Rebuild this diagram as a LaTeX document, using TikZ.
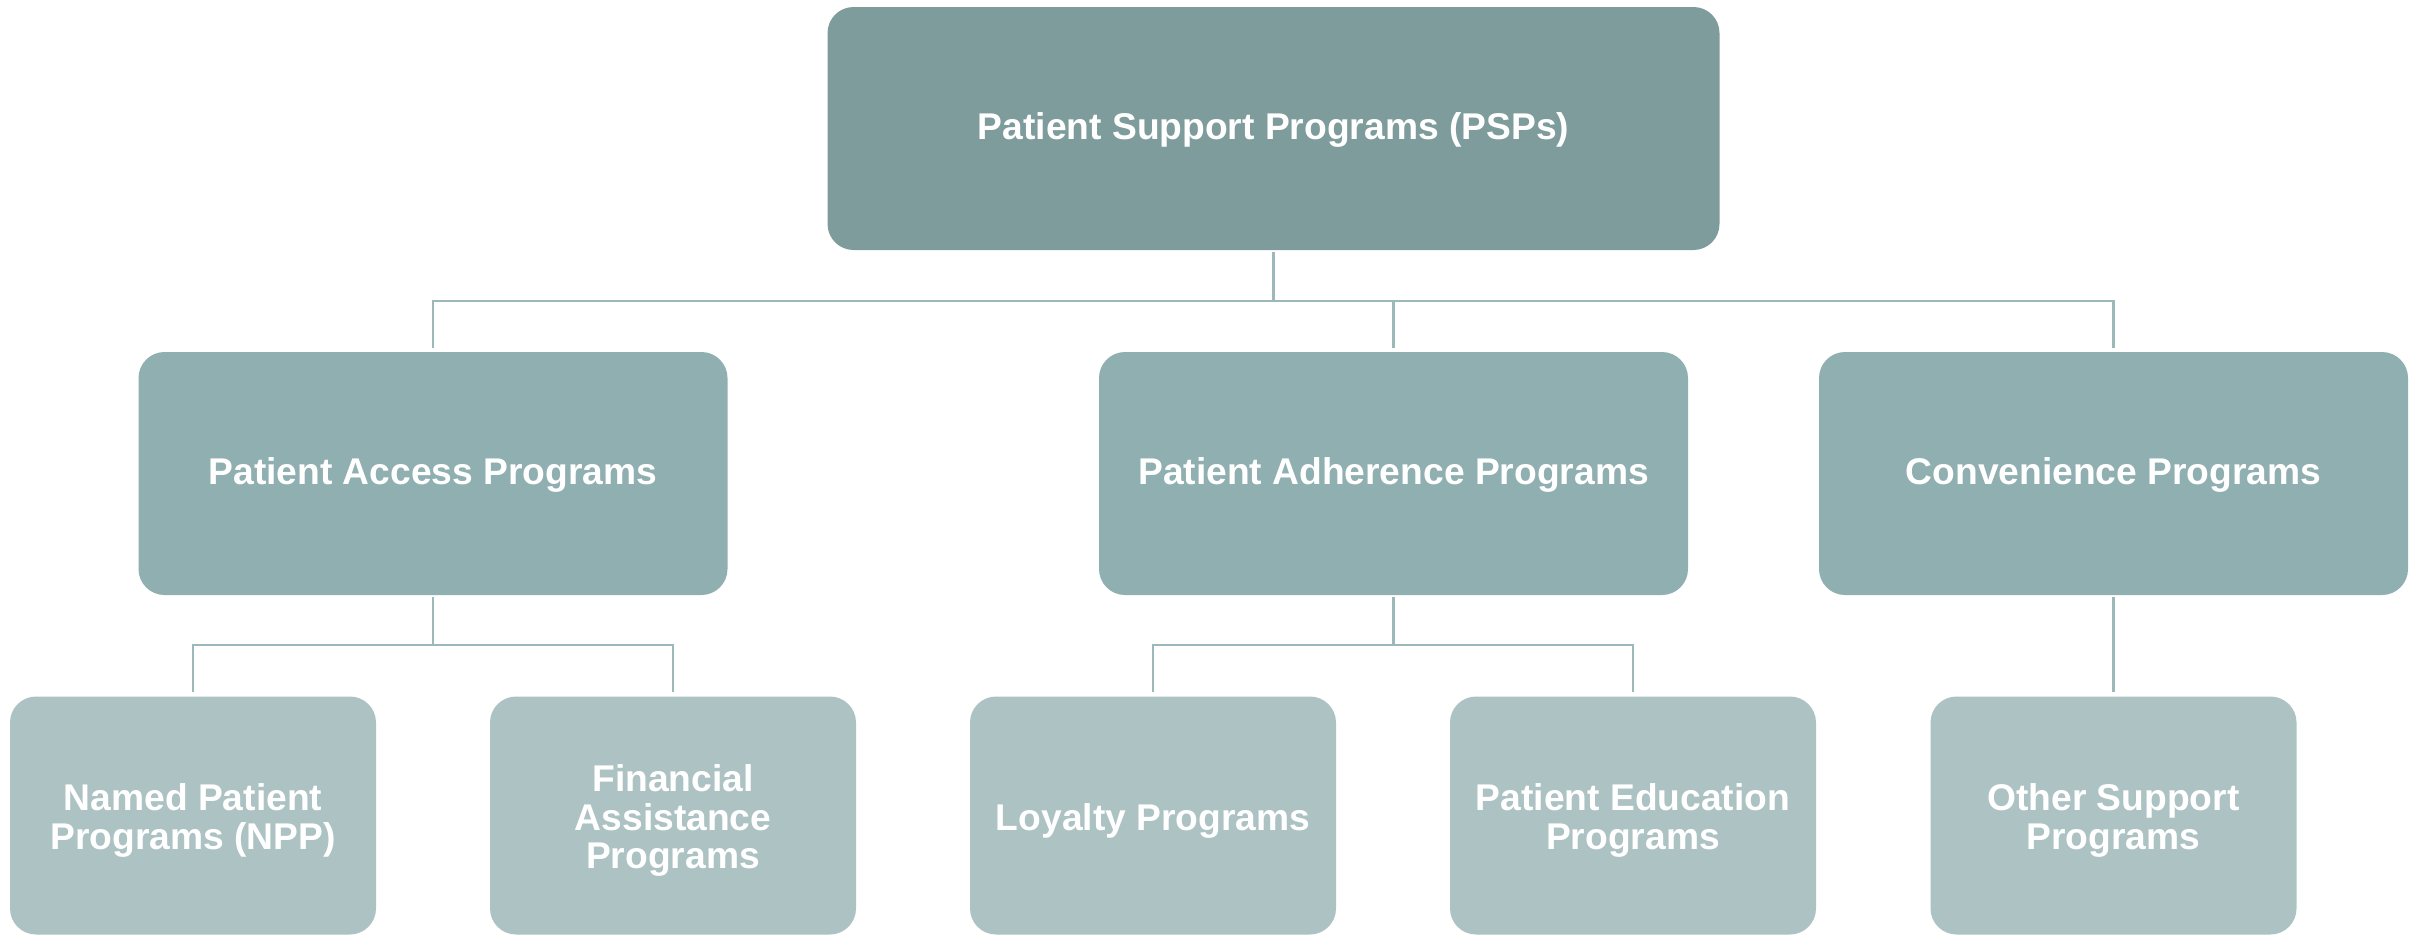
\documentclass[tikz,border=0pt]{standalone}
\usepackage{fontspec}
\setmainfont{Liberation Sans}
\definecolor{cTop}{HTML}{7F9C9D}
\definecolor{cMid}{HTML}{8FAFB0}
\definecolor{cLow}{HTML}{ADC2C3}
\definecolor{cLine}{HTML}{9BB9BA}
\newcommand\boxtext[2]{\raisebox{#1}[\height][\depth]{\begin{tabular}{@{}c@{}}#2\end{tabular}}}
\tikzset{
  box/.style={rounded corners=13pt, inner sep=0pt, text=white, align=center,
    font=\fontsize{18.6}{19.4}\selectfont\bfseries},
  topbox/.style={box, fill=cTop, minimum width=446pt, minimum height=121.5pt},
  midbox/.style={box, fill=cMid, minimum width=294.5pt, minimum height=121.5pt},
  lowbox/.style={box, fill=cLow, minimum width=183pt, minimum height=119pt},
  conn/.style={draw=cLine, line width=1.4pt}
}
\begin{document}
\begin{tikzpicture}[x=0.5pt,y=-0.5pt]
\useasboundingbox (0,0) rectangle (2420,937);
\node[topbox] (top) at (1273.5,128.5) {\boxtext{-1.8pt}{Patient Support Programs (PSPs)}};
\node[midbox] (acc) at (433,473.5) {\boxtext{-1.8pt}{Patient Access Programs}};
\node[midbox] (adh) at (1393.5,473.5) {\boxtext{-1.8pt}{Patient Adherence Programs}};
\node[midbox] (conv) at (2113.5,473.5) {\boxtext{-1.8pt}{Convenience Programs}};
\node[lowbox] (npp) at (193,815.5) {\boxtext{-3.4pt}{Named Patient\\Programs (NPP)}};
\node[lowbox] (fin) at (673,815.5) {\boxtext{-3.4pt}{Financial\\Assistance\\Programs}};
\node[lowbox] (loy) at (1153,815.5) {\boxtext{-3.4pt}{Loyalty Programs}};
\node[lowbox] (edu) at (1633,815.5) {\boxtext{-3.4pt}{Patient Education\\Programs}};
\node[lowbox] (oth) at (2113.5,815.5) {\boxtext{-3.4pt}{Other Support\\Programs}};
\coordinate (bus1) at (0,301);
\coordinate (bus2) at (0,645);
% level 1 to level 2
\draw[conn, shorten <=1pt] (top.south) -- (top.south |- bus1);
\draw[conn, shorten <=2pt, shorten >=2pt] (acc.north) -- (acc.north |- bus1) -- (conv.north |- bus1) -- (conv.north);
\draw[conn, shorten <=2pt] (adh.north) -- (adh.north |- bus1);
% level 2 to level 3
\draw[conn, shorten <=1pt] (acc.south) -- (acc.south |- bus2);
\draw[conn, shorten <=2pt, shorten >=2pt] (npp.north) -- (npp.north |- bus2) -- (fin.north |- bus2) -- (fin.north);
\draw[conn, shorten <=1pt] (adh.south) -- (adh.south |- bus2);
\draw[conn, shorten <=2pt, shorten >=2pt] (loy.north) -- (loy.north |- bus2) -- (edu.north |- bus2) -- (edu.north);
\draw[conn, shorten <=1pt, shorten >=2pt] (conv.south) -- (oth.north);
\end{tikzpicture}
\end{document}
